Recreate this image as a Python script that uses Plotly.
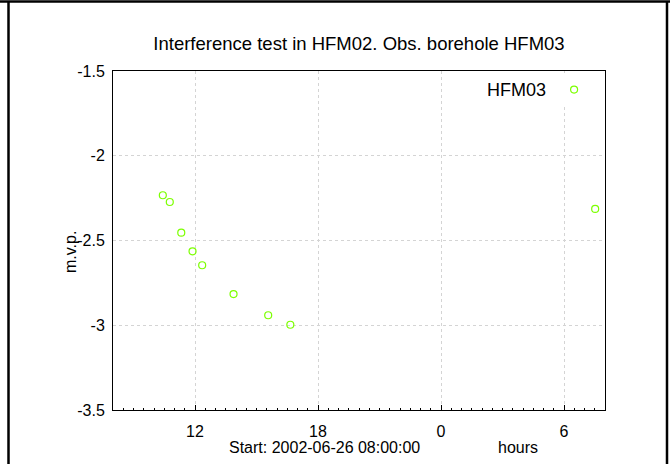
import plotly.graph_objects as go

# hours elapsed since start 2002-06-26 08:00:00
hours = [2.43, 2.77, 3.33, 3.88, 4.35, 5.88, 7.57, 8.65, 23.52]
mvp = [-2.233, -2.273, -2.454, -2.564, -2.646, -2.816, -2.941, -2.997, -2.314]
series_name = "HFM03"
x_tickvals = [4, 10, 16, 22]
x_ticktext = ["12", "18", "0", "6"]
y_tickvals = [-1.5, -2, -2.5, -3, -3.5]
y_ticktext = ["-1.5", "-2", "-2.5", "-3", "-3.5"]

FONT = "Liberation Sans, Arial, sans-serif"
GREEN = "#7CFF00"
GRID = "#d4d4d4"

fig = go.Figure()
fig.add_trace(go.Scatter(
    x=hours, y=mvp, mode="markers", name="",
    marker=dict(symbol="circle-open", size=7, color=GREEN, line=dict(width=1.2, color=GREEN)),
    showlegend=True,
))

fig.update_layout(
    width=670, height=464,
    margin=dict(l=113, r=65, t=71, b=54),
    paper_bgcolor="white", plot_bgcolor="white",
    font=dict(family=FONT, size=16, color="black"),
    title=dict(text="Interference test in HFM02. Obs. borehole HFM03",
               x=359 / 670, xanchor="center", y=1 - 44 / 464, yanchor="middle",
               font=dict(size=18.5, family=FONT, color="black")),
    legend=dict(
        title=dict(text=series_name, side="left", font=dict(size=18, family=FONT)),
        x=0.99, xanchor="right", y=0.995, yanchor="top",
        bgcolor="white", borderwidth=0, font=dict(size=16),
        itemwidth=30,
    ),
    showlegend=True,
)

fig.update_xaxes(
    range=[0, 24], tickvals=x_tickvals, ticktext=x_ticktext,
    showline=True, linecolor="black", linewidth=1, mirror=True,
    showgrid=True, gridcolor=GRID, griddash="dot", gridwidth=1,
    ticks="inside", ticklen=5, tickcolor="black", tickwidth=1,
    minor=dict(dtick=0.5, tick0=0, ticks="inside", ticklen=2, tickcolor="black", showgrid=False),
    zeroline=False, tickfont=dict(size=16), ticklabelstandoff=7,
)
fig.update_yaxes(
    range=[-3.5, -1.5], tickvals=y_tickvals, ticktext=y_ticktext,
    showline=True, linecolor="black", linewidth=1, mirror=True,
    showgrid=True, gridcolor=GRID, griddash="dot", gridwidth=1,
    ticks="", zeroline=False, tickfont=dict(size=16), ticklabelstandoff=4,
)

# axis labels as annotations
fig.add_annotation(text="Start: 2002-06-26 08:00:00", xref="paper", yref="paper",
                   x=(324 - 113) / 492, y=(410 - 447) / 339, showarrow=False,
                   xanchor="center", yanchor="middle", font=dict(size=16))
fig.add_annotation(text="hours", xref="paper", yref="paper",
                   x=(518 - 113) / 492, y=(410 - 447) / 339, showarrow=False,
                   xanchor="center", yanchor="middle", font=dict(size=16))
fig.add_annotation(text="m.v.p.", xref="paper", yref="paper", textangle=-90,
                   x=(70 - 113) / 492, y=(410 - 252) / 339, showarrow=False,
                   xanchor="center", yanchor="middle", font=dict(size=16))

# outer frame
def px(x):
    return (x - 113) / 492
def py(y):
    return (410 - y) / 339
frame = dict(color="black", width=2.5)
fig.add_shape(type="line", xref="paper", yref="paper", x0=px(8.5), x1=px(8.5), y0=py(1.5), y1=py(480), line=frame)
fig.add_shape(type="line", xref="paper", yref="paper", x0=px(667), x1=px(667), y0=py(1.5), y1=py(480), line=frame)
fig.add_shape(type="line", xref="paper", yref="paper", x0=px(0), x1=px(670), y0=py(1.5), y1=py(1.5), line=frame)

fig.write_html("out.html", config={"displayModeBar": False},
               post_script="document.body.style.margin='0';document.body.style.overflow='hidden';")
